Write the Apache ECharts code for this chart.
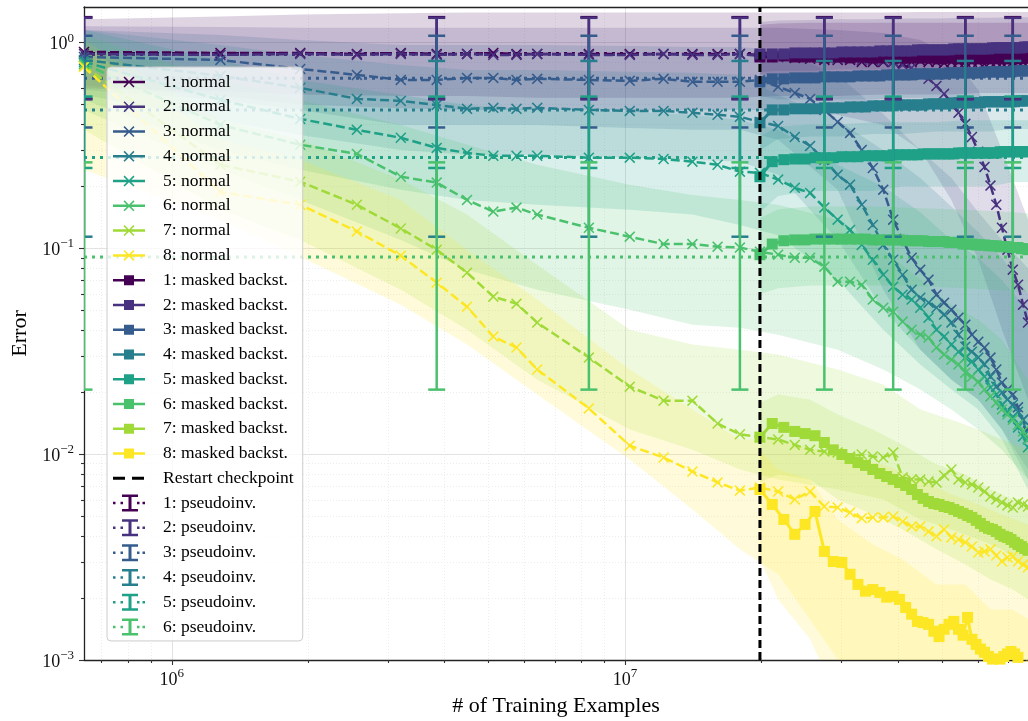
<!DOCTYPE html>
<html>
<head>
<meta charset="utf-8">
<script src="https://cdn.jsdelivr.net/npm/echarts@6/dist/echarts.min.js"></script>
<style>
  html, body { margin: 0; padding: 0; background: #ffffff; }
  #chart { width: 1028px; height: 721px; }
</style>
</head>
<body>
<div id="chart"></div>
<script>
// ---------- axis extents and ticks ----------
const X_MIN = 6.4e5, X_MAX = 7.744e7;
const Y_MIN = 1e-3, Y_MAX = 1.49;
const X_TICKS = [1e6, 1e7];
const X_MINOR = [7e5, 8e5, 9e5, 2e6, 3e6, 4e6, 5e6, 6e6, 7e6, 8e6, 9e6, 2e7, 3e7, 4e7, 5e7, 6e7, 7e7];
const Y_TICKS = [1e-3, 1e-2, 1e-1, 1];
const Y_MINOR = [2e-3, 3e-3, 4e-3, 5e-3, 6e-3, 7e-3, 8e-3, 9e-3,
                 2e-2, 3e-2, 4e-2, 5e-2, 6e-2, 7e-2, 8e-2, 9e-2,
                 2e-1, 3e-1, 4e-1, 5e-1, 6e-1, 7e-1, 8e-1, 9e-1];

// ---------- runs without masking (dashed, x markers) ----------
const normalSteps = [6.4e5, 1.28e6, 1.92e6, 2.56e6, 3.2e6, 3.84e6, 4.48e6, 5.12e6, 5.76e6, 6.4e6,
  8.32e6, 1.024e7, 1.216e7, 1.408e7, 1.6e7, 1.792e7,
  1.984e7, 2.176e7, 2.368e7, 2.56e7, 2.752e7, 2.944e7, 3.136e7, 3.328e7, 3.52e7, 3.712e7,
  3.904e7, 4.096e7, 4.288e7, 4.48e7, 4.672e7, 4.864e7, 5.056e7, 5.248e7, 5.44e7, 5.632e7,
  5.824e7, 6.016e7, 6.208e7, 6.4e7, 6.592e7, 6.784e7, 6.976e7, 7.168e7, 7.36e7, 7.552e7, 7.744e7];

const normal1 = [0.901,0.891,0.891,0.881,0.891,0.881,0.881,0.891,0.881,0.881, 0.881,0.881,0.881,0.881,0.881,0.881,
  0.872,0.852,0.843,0.834,0.824,0.824,0.824,0.806,0.806,0.806,0.806,0.797,0.806,0.815,0.806,0.806,0.797,0.806,0.806,0.806,0.806,0.806,0.788,0.806,0.806,0.797,0.806,0.806,0.806,0.806,0.806];
const normal2 = [0.881,0.872,0.881,0.872,0.881,0.872,0.881,0.872,0.872,0.881, 0.872,0.872,0.881,0.872,0.872,0.881,
  0.862,0.852,0.852,0.843,0.843,0.834,0.834,0.824,0.824,0.815,0.806,0.779,0.754,0.713,0.667,0.616,0.564,0.510,0.456,0.403,0.348,0.295,0.249,0.202,0.163,0.126,0.0986,0.0788,0.0666,0.0533,0.0436];
const normal3 = [0.852,0.824,0.745,0.697,0.659,0.659,0.674,0.674,0.659,0.667, 0.659,0.652,0.667,0.645,0.645,0.645,
  0.659,0.610,0.570,0.533,0.471,0.412,0.364,0.301,0.246,0.193,0.138,0.110,0.0901,0.0788,0.0705,0.0596,0.0545,0.0504,0.0461,0.0426,0.0381,0.0352,0.0330,0.0295,0.0258,0.0223,0.0206,0.0195,0.0169,0.0147,0.0129];
const normal4 = [0.824,0.689,0.603,0.533,0.521,0.498,0.477,0.482,0.477,0.482, 0.471,0.466,0.466,0.456,0.446,0.436,
  0.412,0.394,0.348,0.315,0.270,0.228,0.204,0.163,0.130,0.104,0.0881,0.0745,0.0630,0.0576,0.0545,0.0515,0.0477,0.0436,0.0381,0.0333,0.0315,0.0295,0.0273,0.0238,0.0213,0.0199,0.0184,0.0174,0.0161,0.0147,0.0118];
const normal5 = [0.806,0.527,0.426,0.377,0.345,0.308,0.291,0.282,0.282,0.282, 0.276,0.276,0.272,0.264,0.255,0.236,
  0.233,0.216,0.197,0.186,0.158,0.138,0.123,0.104,0.0881,0.0745,0.0652,0.0596,0.0564,0.0515,0.0461,0.0403,0.0373,0.0341,0.0315,0.0295,0.0282,0.0258,0.0238,0.0211,0.0195,0.0174,0.0161,0.0151,0.0135,0.0122,0.0108];
const normal6 = [0.788,0.398,0.319,0.288,0.223,0.209,0.172,0.151,0.158,0.146, 0.126,0.114,0.105,0.105,0.102,0.101,
  0.0964,0.0932,0.0901,0.0901,0.0815,0.0689,0.0689,0.0666,0.0564,0.0515,0.0493,0.0441,0.0403,0.0381,0.0369,0.0330,0.0305,0.0288,0.0273,0.0249,0.0238,0.0225,0.0206,0.0191,0.0178,0.0165,0.0156,0.0147,0.0139,0.0129,0.0118];
const normal7 = [0.771,0.255,0.211,0.163,0.125,0.0986,0.0762,0.0583,0.0539,0.0436, 0.0295,0.0213,0.0182,0.0182,0.0141,0.0125,
  0.0121,0.0118,0.0111,0.0105,0.0103,0.0102,0.00975,0.00997,0.00975,0.00964,0.0102,0.00771,0.00754,0.00754,0.00737,0.00729,0.00788,0.00843,0.00754,0.00729,0.00713,0.00689,0.00659,0.00623,0.00603,0.00583,0.00564,0.00551,0.00583,0.00570,0.00557];
const normal8 = [0.762,0.188,0.163,0.121,0.0922,0.0682,0.0521,0.0373,0.0330,0.0258, 0.0167,0.0110,0.00964,0.00824,0.00729,0.00666,
  0.00689,0.00659,0.00603,0.00659,0.00557,0.00551,0.00521,0.00488,0.00493,0.00493,0.00498,0.00471,0.00446,0.00446,0.00421,0.00399,0.00431,0.00394,0.00385,0.00373,0.00356,0.00333,0.00337,0.00345,0.00322,0.00301,0.00315,0.00319,0.00301,0.00291,0.00282];

// spread of the unmasked runs
const normalBandSteps = [6.4e5, 1.28e6, 1.92e6, 3.2e6, 4.48e6, 6.4e6, 1.024e7, 1.408e7, 1.792e7,
  2.176e7, 2.944e7, 3.712e7, 4.48e7, 5.248e7, 6.016e7, 6.784e7, 7.744e7];
const normal1Lo = [0.60,0.58,0.56,0.55,0.55,0.54,0.54,0.54,0.54,0.55,0.55,0.56,0.56,0.56,0.57,0.57,0.57];
const normal1Hi = [1.30,1.34,1.37,1.39,1.40,1.40,1.40,1.40,1.40,1.40,1.40,1.40,1.41,1.41,1.41,1.41,1.41];
const normal2Lo = [0.62,0.55,0.50,0.48,0.47,0.47,0.47,0.47,0.47,0.47,0.446,0.398,0.301,0.172,0.0881,0.0403,0.0184];
const normal2Hi = [1.20,1.19,1.18,1.18,1.18,1.18,1.18,1.18,1.18,1.18,1.153,1.115,1.031,0.872,0.589,0.301,0.138];
const normal3Lo = [0.589,0.527,0.471,0.398,0.398,0.398,0.385,0.377,0.377,0.337,0.193,0.0630,0.0322,0.0230,0.0184,0.0132,0.00843];
const normal3Hi = [1.153,1.090,1.031,0.975,0.975,0.975,0.964,0.953,0.953,0.922,0.697,0.45,0.30,0.22,0.15,0.11,0.08];
const normal4Lo = [0.557,0.421,0.356,0.301,0.285,0.285,0.276,0.270,0.264,0.228,0.110,0.0504,0.0322,0.0230,0.0184,0.0132,0.00754];
const normal4Hi = [1.153,0.975,0.872,0.779,0.737,0.737,0.721,0.713,0.697,0.557,0.421,0.30,0.22,0.16,0.12,0.09,0.06];
const normal5Lo = [0.527,0.301,0.241,0.193,0.172,0.163,0.154,0.146,0.130,0.116,0.0705,0.0403,0.0273,0.0206,0.0165,0.0118,0.00674];
const normal5Hi = [1.153,0.824,0.659,0.557,0.498,0.471,0.461,0.446,0.421,0.377,0.255,0.20,0.15,0.11,0.09,0.07,0.05];
const normal6Lo = [0.471,0.241,0.172,0.110,0.0788,0.0630,0.0504,0.0426,0.0412,0.0381,0.0322,0.0258,0.0206,0.0165,0.0132,0.0105,0.00754];
const normal6Hi = [1.090,0.659,0.527,0.398,0.319,0.255,0.204,0.182,0.172,0.163,0.138,0.0986,0.0705,0.0533,0.0451,0.0360,0.0230];
const normal7Lo = [0.377,0.154,0.110,0.0630,0.0403,0.0230,0.0132,0.0105,0.00843,0.00754,0.00674,0.00603,0.00482,0.00431,0.00385,0.00345,0.00276];
const normal7Hi = [1.031,0.421,0.337,0.216,0.146,0.0833,0.0403,0.0341,0.0322,0.0305,0.0258,0.0218,0.0165,0.0147,0.0132,0.0118,0.0105];
const normal8Lo = [0.241,0.138,0.0911,0.0533,0.0341,0.0195,0.00943,0.00539,0.00345,0.00261,0.00101,0.00064,0.00064,0.00064,0.00064,0.00064,0.00064];
const normal8Hi = [0.975,0.337,0.270,0.172,0.0986,0.0564,0.0258,0.0165,0.0118,0.0118,0.00997,0.00891,0.00754,0.00637,0.00570,0.00510,0.00456];

// ---------- runs resumed with masked backsubstitution ----------
const maskedSteps = [1.984e7, 2.112e7, 2.24e7, 2.368e7, 2.496e7, 2.624e7, 2.752e7, 2.88e7, 3.008e7, 3.136e7,
  3.264e7, 3.392e7, 3.52e7, 3.648e7, 3.776e7, 3.904e7, 4.032e7, 4.16e7, 4.288e7, 4.416e7,
  4.544e7, 4.672e7, 4.8e7, 4.928e7, 5.056e7, 5.184e7, 5.312e7, 5.44e7, 5.568e7, 5.696e7,
  5.824e7, 5.952e7, 6.08e7, 6.208e7, 6.336e7, 6.464e7, 6.592e7, 6.72e7, 6.848e7, 6.976e7,
  7.104e7, 7.232e7, 7.36e7, 7.488e7, 7.616e7, 7.744e7];
const masked1 = [0.852,0.852,0.862,0.852,0.852,0.852,0.843,0.852,0.852,0.843, 0.852,0.852,0.843,0.843,0.852,0.843,0.843,0.843,0.852,0.843,
  0.843,0.843,0.843,0.834,0.843,0.843,0.843,0.834,0.843,0.843, 0.843,0.834,0.843,0.843,0.843,0.834,0.843,0.843,0.843,0.834, 0.843,0.843,0.834,0.843,0.843,0.843];
const masked2 = [0.881,0.881,0.881,0.891,0.891,0.891,0.891,0.891,0.901,0.901, 0.901,0.901,0.901,0.911,0.911,0.911,0.911,0.911,0.911,0.922,
  0.922,0.922,0.922,0.922,0.922,0.922,0.932,0.932,0.932,0.932, 0.932,0.932,0.932,0.932,0.932,0.943,0.943,0.943,0.943,0.943, 0.943,0.943,0.943,0.943,0.953,0.953];
const masked3 = [0.645,0.667,0.667,0.674,0.674,0.674,0.682,0.682,0.682,0.682, 0.689,0.689,0.689,0.689,0.697,0.697,0.697,0.697,0.697,0.705,
  0.705,0.705,0.705,0.705,0.705,0.713,0.713,0.713,0.713,0.713, 0.713,0.713,0.713,0.721,0.721,0.721,0.721,0.721,0.721,0.721, 0.721,0.729,0.729,0.729,0.729,0.729];
const masked4 = [0.408,0.471,0.471,0.477,0.477,0.477,0.482,0.482,0.482,0.487, 0.487,0.487,0.493,0.493,0.493,0.493,0.498,0.498,0.498,0.498,
  0.498,0.504,0.504,0.504,0.504,0.504,0.510,0.510,0.510,0.510, 0.510,0.510,0.510,0.516,0.516,0.516,0.516,0.516,0.516,0.516, 0.516,0.516,0.521,0.521,0.521,0.521];
const masked5 = [0.223,0.264,0.270,0.272,0.272,0.276,0.276,0.276,0.279,0.279, 0.279,0.282,0.282,0.282,0.282,0.285,0.285,0.285,0.285,0.285,
  0.288,0.288,0.288,0.288,0.288,0.288,0.288,0.291,0.291,0.291, 0.291,0.291,0.291,0.291,0.291,0.291,0.291,0.295,0.295,0.295, 0.295,0.295,0.295,0.295,0.295,0.295];
const masked6 = [0.0932,0.105,0.109,0.110,0.110,0.111,0.111,0.111,0.111,0.111, 0.111,0.111,0.110,0.110,0.110,0.110,0.110,0.109,0.109,0.109,
  0.109,0.108,0.108,0.108,0.108,0.107,0.107,0.107,0.105,0.105, 0.105,0.104,0.104,0.104,0.103,0.103,0.103,0.102,0.102,0.102, 0.101,0.101,0.101,0.0997,0.0997,0.0986];
const masked7 = [0.0121,0.0141,0.0135,0.0129,0.0126,0.0123,0.0114,0.0105,0.00997,0.00953, 0.00911,0.00882,0.00843,0.00806,0.00779,0.00754,0.00729,0.00705,0.00674,0.00637,
  0.00610,0.00589,0.00576,0.00570,0.00557,0.00551,0.00539,0.00527,0.00516,0.00504, 0.00493,0.00477,0.00461,0.00446,0.00436,0.00431,0.00421,0.00408,0.00399,0.00394, 0.00385,0.00373,0.00364,0.00356,0.00348,0.00341];
const masked8 = [0.00674,0.00570,0.00482,0.00408,0.00456,0.00527,0.00337,0.00301,0.00298,0.00261, 0.00233,0.00216,0.00220,0.00213,0.00202,0.00204,0.00197,0.00180,0.00167,0.00154,
  0.00152,0.00149,0.00138,0.00130,0.00141,0.00149,0.00154,0.00141,0.00132,0.00161, 0.00126,0.00119,0.00113,0.00109,0.00104,0.00101,0.000975,0.00101,0.00104,0.00107, 0.00110,0.00107,0.00103,0.000986,0.000953,0.000986];

// spread of the masked runs
const maskedBandSteps = [1.984e7, 2.176e7, 2.56e7, 2.944e7, 3.52e7, 4.096e7, 4.864e7, 5.632e7, 6.4e7, 7.168e7, 7.744e7];
const masked1Lo = [0.70,0.70,0.70,0.70,0.70,0.70,0.70,0.70,0.70,0.70,0.70];
const masked1Hi = [1.22,1.24,1.25,1.25,1.25,1.25,1.25,1.25,1.25,1.25,1.25];
const masked2Lo = [0.72,0.73,0.73,0.74,0.74,0.75,0.75,0.76,0.76,0.77,0.77];
const masked2Hi = [1.26,1.28,1.29,1.30,1.30,1.31,1.31,1.32,1.32,1.33,1.33];
const masked3Lo = [0.55,0.53,0.53,0.53,0.53,0.54,0.54,0.54,0.55,0.55,0.55];
const masked3Hi = [0.90,0.92,0.93,0.94,0.95,0.96,0.97,0.97,0.98,0.98,0.98];
const masked4Lo = [0.30,0.34,0.35,0.35,0.36,0.36,0.37,0.37,0.37,0.38,0.38];
const masked4Hi = [0.62,0.66,0.67,0.68,0.69,0.69,0.70,0.70,0.71,0.71,0.71];
const masked5Lo = [0.15,0.18,0.19,0.19,0.19,0.20,0.20,0.20,0.20,0.21,0.21];
const masked5Hi = [0.35,0.39,0.40,0.40,0.41,0.41,0.41,0.42,0.42,0.42,0.42];
const masked6Lo = [0.060,0.064,0.066,0.066,0.066,0.066,0.065,0.064,0.063,0.062,0.061];
const masked6Hi = [0.140,0.155,0.160,0.160,0.160,0.158,0.156,0.154,0.152,0.150,0.148];
const masked7Lo = [0.00729,0.00797,0.00754,0.00603,0.00510,0.00431,0.00345,0.00291,0.00246,0.00220,0.00197];
const masked7Hi = [0.0178,0.0195,0.0184,0.0156,0.0132,0.0111,0.00891,0.00797,0.00674,0.00603,0.00539];
const masked8Lo = [0.00308,0.00197,0.00126,0.00064,0.00064,0.00064,0.00064,0.00064,0.00064,0.00064,0.00064];
const masked8Hi = [0.0105,0.00843,0.00754,0.00482,0.00364,0.00308,0.00233,0.00233,0.00176,0.00176,0.00158];

// ---------- restart checkpoint ----------
const restartStep = 1.984e7;

// ---------- pseudoinverse reference levels ----------
const pseudoValues = [0.885, 0.875, 0.672, 0.471, 0.2765, 0.0909];
const pseudoLow    = [0.535, 0.530, 0.387, 0.114, 0.246, 0.0206];
const pseudoHigh   = [1.33, 1.32, 1.08, 0.815, 0.547, 0.262];
const pseudoSteps  = [6.4e5, 3.84e6, 8.32e6, 1.792e7, 2.752e7, 3.904e7, 5.632e7, 7.168e7];

// ---------- styling ----------
const VIRIDIS = ['#440154', '#46327e', '#365c8d', '#277f8e', '#1fa187', '#4ac16d', '#a0da39', '#fde725'];
const SERIF = "'Liberation Serif', 'DejaVu Serif', serif";
const X_SYMBOL = 'path://M0,1L1,0L5,4L9,0L10,1L6,5L10,9L9,10L5,6L1,10L0,9L4,5Z';

const CORNERS = 'M0,0L0.01,0L0.01,0.01L0,0.01Z M44.99,19.99L45,19.99L45,20L44.99,20Z ';
const ICON_NORMAL = 'path://' + CORNERS +
  'M0,8.75L32,8.75L32,11.25L0,11.25Z M10.5,5.6L11.6,4.5L16,8.9L20.4,4.5L21.5,5.6L17.1,10L21.5,14.4L20.4,15.5L16,11.1L11.6,15.5L10.5,14.4L14.9,10Z';
const ICON_MASKED = 'path://' + CORNERS + 'M0,8.75L32,8.75L32,11.25L0,11.25Z M11,5L21,5L21,15L11,15Z';
const ICON_RESTART = 'path://' + CORNERS + 'M0,8.5L12,8.5L12,11.5L0,11.5Z M19,8.5L31,8.5L31,11.5L19,11.5Z';
const ICON_PSEUDO = 'path://' + CORNERS +
  'M0,8.75L2.5,8.75L2.5,11.25L0,11.25Z M7.5,8.75L10,8.75L10,11.25L7.5,11.25Z M24,8.75L26.5,8.75L26.5,11.25L24,11.25Z M29.5,8.75L32,8.75L32,11.25L29.5,11.25Z ' +
  'M15.5,1.5L18.5,1.5L18.5,18.5L15.5,18.5Z M9,1.5L25,1.5L25,4L9,4Z M9,16L25,16L25,18.5L9,18.5Z';

const normalRuns = [normal1, normal2, normal3, normal4, normal5, normal6, normal7, normal8];
const normalLo = [normal1Lo, normal2Lo, normal3Lo, normal4Lo, normal5Lo, normal6Lo, normal7Lo, normal8Lo];
const normalHi = [normal1Hi, normal2Hi, normal3Hi, normal4Hi, normal5Hi, normal6Hi, normal7Hi, normal8Hi];
const maskedRuns = [masked1, masked2, masked3, masked4, masked5, masked6, masked7, masked8];
const maskedLo = [masked1Lo, masked2Lo, masked3Lo, masked4Lo, masked5Lo, masked6Lo, masked7Lo, masked8Lo];
const maskedHi = [masked1Hi, masked2Hi, masked3Hi, masked4Hi, masked5Hi, masked6Hi, masked7Hi, masked8Hi];

const normalNames = normalRuns.map((_, i) => (i + 1) + ': normal');
const maskedNames = maskedRuns.map((_, i) => (i + 1) + ': masked backst.');
const pseudoNames = pseudoValues.map((_, i) => (i + 1) + ': pseudoinv.');

function zip(xs, ys) { return xs.map((x, i) => [x, ys[i]]); }

// shaded spread between a lower and an upper curve
function bandSeries(name, steps, lo, hi, color) {
  return {
    type: 'custom', name: name, silent: true, clip: true, z: 1,
    data: [[steps[0], lo[0]]],
    renderItem: function (params, api) {
      const pts = [];
      for (let i = 0; i < steps.length; i++) pts.push(api.coord([steps[i], lo[i]]));
      for (let i = steps.length - 1; i >= 0; i--) pts.push(api.coord([steps[i], hi[i]]));
      return { type: 'polygon', shape: { points: pts }, style: { fill: color, opacity: 0.17 } };
    }
  };
}

function powLabel(v) {
  const e = Math.round(Math.log10(v));
  return '{b|10}{s|' + (e < 0 ? '\u2212' + (-e) : String(e)) + '}';
}
const powRich = {
  b: { fontFamily: SERIF, fontSize: 18, lineHeight: 22, verticalAlign: 'bottom', color: '#111' },
  s: { fontFamily: SERIF, fontSize: 13, lineHeight: 13, verticalAlign: 'top', color: '#111' }
};

const series = [];

normalRuns.forEach((_, i) => series.push(bandSeries(normalNames[i] + ' spread', normalBandSteps, normalLo[i], normalHi[i], VIRIDIS[i])));
maskedRuns.forEach((_, i) => series.push(bandSeries(maskedNames[i] + ' spread', maskedBandSteps, maskedLo[i], maskedHi[i], VIRIDIS[i])));

pseudoValues.forEach((v, i) => series.push({
  type: 'line', name: pseudoNames[i], silent: true, z: 3,
  data: [[X_MIN, v], [X_MAX, v]],
  symbol: 'none', showSymbol: false,
  itemStyle: { color: VIRIDIS[i] },
  lineStyle: { color: VIRIDIS[i], width: 3, type: [3, 5] }
}));

normalRuns.forEach((vals, i) => series.push({
  type: 'line', name: normalNames[i], silent: true, z: 4,
  data: zip(normalSteps, vals),
  symbol: X_SYMBOL, symbolSize: 11, showSymbol: true,
  itemStyle: { color: VIRIDIS[i], borderWidth: 0 },
  lineStyle: { color: VIRIDIS[i], width: 2.5, type: [9, 4] }
}));

maskedRuns.forEach((vals, i) => series.push({
  type: 'line', name: maskedNames[i], silent: true, z: 5,
  data: zip(maskedSteps, vals),
  symbol: 'rect', symbolSize: 11, showSymbol: true,
  itemStyle: { color: VIRIDIS[i], borderWidth: 0 },
  lineStyle: { color: VIRIDIS[i], width: 3 }
}));

series.push({
  type: 'line', name: 'Restart checkpoint', silent: true, z: 6,
  data: [[restartStep, Y_MIN], [restartStep, Y_MAX]],
  symbol: 'none', showSymbol: false,
  itemStyle: { color: '#000' },
  lineStyle: { color: '#000', width: 3, type: [8, 4] }
});

pseudoValues.forEach((_, i) => series.push({
  type: 'custom', name: 'errorbar ' + (i + 1), silent: true, clip: true, z: 7,
  data: pseudoSteps.map(x => [x, pseudoLow[i], pseudoHigh[i]]),
  encode: { x: 0, y: [1, 2] },
  renderItem: function (params, api) {
    const x = api.value(0);
    const p0 = api.coord([x, api.value(1)]);
    const p1 = api.coord([x, api.value(2)]);
    const hw = 8.5;
    const st = { stroke: VIRIDIS[i], lineWidth: 2.5 };
    return {
      type: 'group', children: [
        { type: 'line', shape: { x1: p0[0], y1: p0[1], x2: p1[0], y2: p1[1] }, style: st },
        { type: 'line', shape: { x1: p0[0] - hw, y1: p0[1], x2: p0[0] + hw, y2: p0[1] }, style: st },
        { type: 'line', shape: { x1: p1[0] - hw, y1: p1[1], x2: p1[0] + hw, y2: p1[1] }, style: st }
      ]
    };
  }
}));

const legendItems = []
  .concat(normalNames.map(n => ({ name: n, icon: ICON_NORMAL })))
  .concat(maskedNames.map(n => ({ name: n, icon: ICON_MASKED })))
  .concat([{ name: 'Restart checkpoint', icon: ICON_RESTART }])
  .concat(pseudoNames.map(n => ({ name: n, icon: ICON_PSEUDO })));

const axisLineStyle = { color: '#222', width: 1.3 };
const tickStyle = { color: '#333', width: 1.1 };

const option = {
  animation: false,
  backgroundColor: '#ffffff',
  grid: { left: 84, right: 0, top: 7, bottom: 61, containLabel: false, outerBoundsMode: 'none' },
  legend: {
    orient: 'vertical', left: 107, top: 67,
    itemWidth: 45, itemHeight: 20, itemGap: 4.77,
    padding: [5, 9, 4, 6],
    backgroundColor: 'rgba(255,255,255,0.8)',
    borderColor: '#cccccc', borderWidth: 1, borderRadius: 4,
    textStyle: { fontFamily: SERIF, fontSize: 17.5, color: '#000' },
    itemStyle: { borderWidth: 0 },
    selectedMode: false, z: 20,
    data: legendItems
  },
  xAxis: [
    {
      type: 'log', logBase: 10, min: X_MIN, max: X_MAX, position: 'bottom',
      name: '# of Training Examples', nameLocation: 'middle', nameGap: 35,
      nameTextStyle: { fontFamily: SERIF, fontSize: 22, color: '#000' },
      axisLine: { show: true, onZero: false, lineStyle: axisLineStyle },
      axisTick: { show: true, customValues: X_TICKS, length: 5, lineStyle: tickStyle },
      axisLabel: { customValues: X_TICKS, formatter: powLabel, rich: powRich, margin: 7 },
      splitLine: { show: true, lineStyle: { color: '#e2e2e2', width: 1 } },
      minorTick: { show: false }, minorSplitLine: { show: false }
    },
    {
      type: 'log', logBase: 10, min: X_MIN, max: X_MAX, position: 'bottom',
      axisLine: { show: false },
      axisTick: { show: true, customValues: X_MINOR, length: 3, lineStyle: tickStyle },
      axisLabel: { show: false },
      splitLine: { show: true, lineStyle: { color: '#e8e8e8', width: 0.8, type: [1, 2] } }
    },
    {
      type: 'log', logBase: 10, min: X_MIN, max: X_MAX, position: 'top',
      axisLine: { show: true, onZero: false, lineStyle: axisLineStyle },
      axisTick: { show: false }, axisLabel: { show: false }, splitLine: { show: false }
    }
  ],
  yAxis: [
    {
      type: 'log', logBase: 10, min: Y_MIN, max: Y_MAX, position: 'left',
      name: 'Error', nameLocation: 'middle', nameGap: 52,
      nameTextStyle: { fontFamily: SERIF, fontSize: 22, color: '#000' },
      axisLine: { show: true, onZero: false, lineStyle: axisLineStyle },
      axisTick: { show: true, customValues: Y_TICKS, length: 5, lineStyle: tickStyle },
      axisLabel: { customValues: Y_TICKS, formatter: powLabel, rich: powRich, margin: 10 },
      splitLine: { show: true, lineStyle: { color: '#e2e2e2', width: 1 } },
      minorTick: { show: false }, minorSplitLine: { show: false }
    },
    {
      type: 'log', logBase: 10, min: Y_MIN, max: Y_MAX, position: 'left',
      axisLine: { show: false },
      axisTick: { show: true, customValues: Y_MINOR, length: 3, lineStyle: tickStyle },
      axisLabel: { show: false },
      splitLine: { show: true, lineStyle: { color: '#e8e8e8', width: 0.8, type: [1, 2] } }
    }
  ],
  series: series
};

const chart = echarts.init(document.getElementById('chart'), null, { renderer: 'canvas' });
chart.setOption(option);
</script>
</body>
</html>
